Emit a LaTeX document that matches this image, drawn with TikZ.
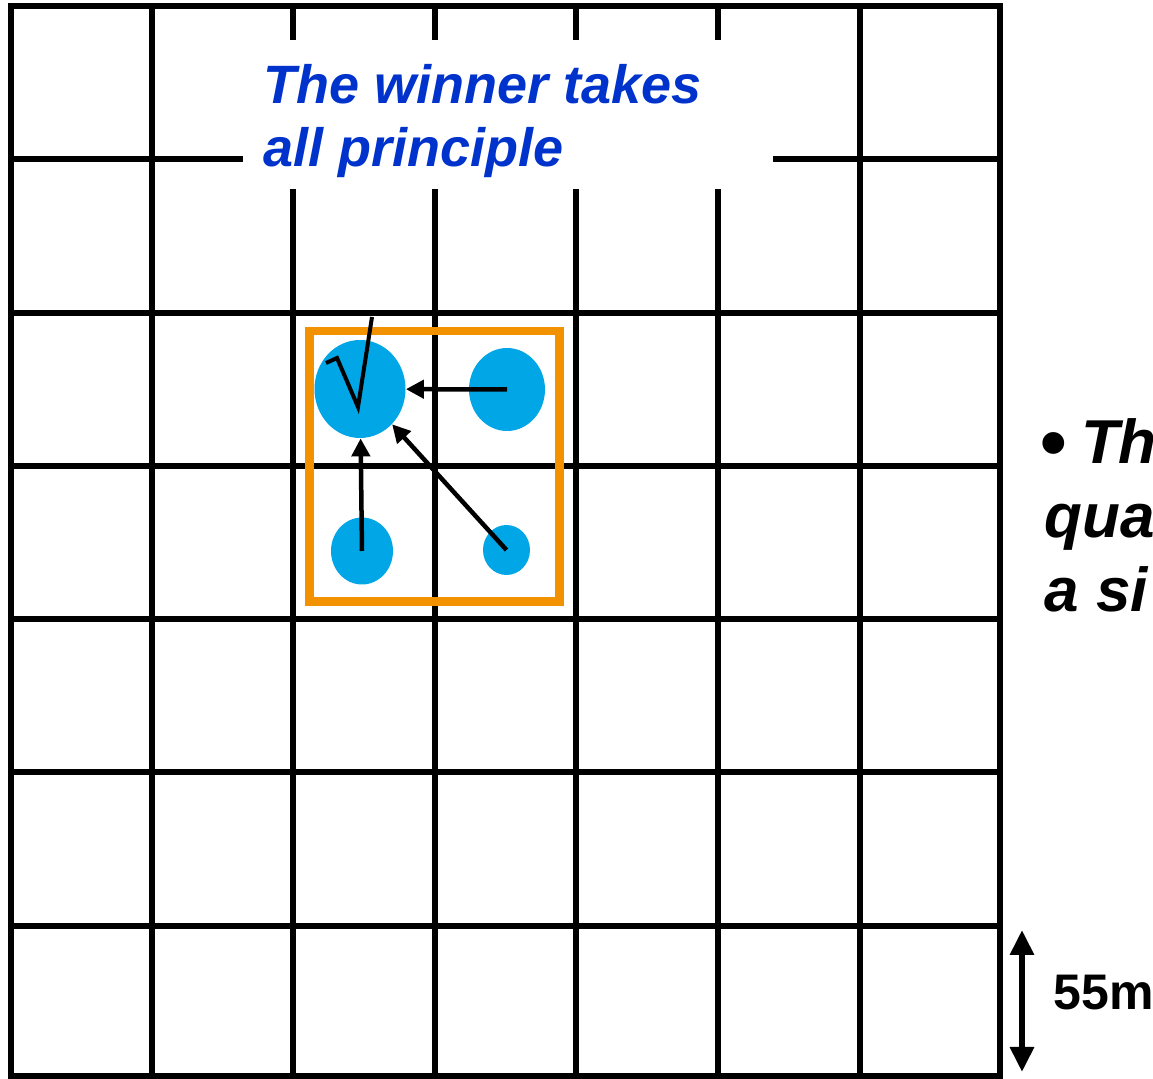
\documentclass[tikz,border=0pt]{standalone}
\usepackage{fontspec}
\setmainfont{Liberation Sans}
\usepackage{xcolor}
\definecolor{dotblue}{RGB}{0,166,230}
\definecolor{boxorange}{RGB}{242,146,0}
\definecolor{titleblue}{RGB}{0,51,204}
\usetikzlibrary{arrows.meta,shapes.geometric}

\begin{document}
\begin{tikzpicture}[x=0.5pt, y=-0.5pt,
  gridline/.style={line width=3pt},
  blob/.style={ellipse, fill=dotblue, inner sep=0pt},
  pull/.style={line width=2.25pt, -{Triangle[length=9pt,width=9pt]}}]
\useasboundingbox (0,0) rectangle (1153,1079);
\fill[white] (0,0) rectangle (1153,1079);
% grid of cells
\draw[gridline] (11,6.5) rectangle (1000,1076);
\foreach \x in {152,293,435,576,718,860}
  \draw[gridline] (\x,6.5) -- (\x,1076);
\foreach \y in {159,313,466,619,772,926}
  \draw[gridline] (11,\y) -- (1000,\y);
% title over the grid
\fill[white] (243,40) rectangle (773,189);
\node[titleblue, anchor=north west, align=left, inner sep=0pt,
  font=\fontsize{27}{31.5}\selectfont\bfseries\itshape] (title) at (263,64)
  {The winner takes\\all principle};
% cluster
\draw[boxorange, line width=4.25pt] (309.5,331) rectangle (559.5,601.5);
\node[blob, minimum width=45.5pt, minimum height=49pt] (winner) at (360,389) {};
\node[blob, minimum width=38pt, minimum height=41.5pt] (east) at (507,389.5) {};
\node[blob, minimum width=31pt, minimum height=33.5pt] (south) at (362,551) {};
\node[blob, minimum width=23.5pt, minimum height=25pt] (diag) at (506.5,550) {};
\draw[pull] (east.center) -- (winner);
\draw[pull] (south.center) -- (winner);
\draw[pull] (diag.center) -- (winner);
\draw[line width=2pt] (326,363) -- (337,358) -- (358,407) -- (372,317);
% side text
\node[anchor=north west, align=left, inner sep=0pt,
  font=\fontsize{31}{37}\selectfont\bfseries\itshape] (point) at (1044,418)
  {\hspace{-2pt}\raisebox{-2.5pt}{\fontsize{38}{38}\selectfont\textup{\textbullet}}\hspace{7pt}Th\\qua\\a si};
% scale bar
\coordinate (scaletop) at (1022,930);
\coordinate (scalebot) at (1022,1072);
\draw[line width=3pt, {Triangle[length=12.5pt,width=11.5pt]}-{Triangle[length=12.5pt,width=11.5pt]}] (scaletop) -- (scalebot);
\node[anchor=base west, inner sep=0pt, font=\fontsize{25}{30}\selectfont\bfseries] (scale) at (1053,1010) {55m};
\end{tikzpicture}
\end{document}
